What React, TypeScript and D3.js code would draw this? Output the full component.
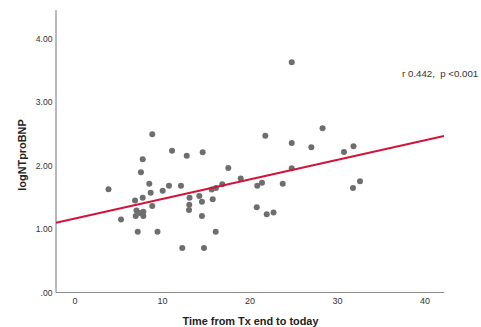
import React from "react";
import * as d3 from "d3";

const timeFromTx: number[] = [
  3.83, 5.26, 6.86, 7.74, 7.03, 7.43, 7.81, 6.94, 7.81, 7.17,
  8.65, 8.83, 8.49, 7.54, 7.74, 8.83, 9.43, 10.02, 10.74, 11.09,
  12.11, 12.26, 12.77, 14.59, 13.09, 13.06, 13.03, 14.21, 14.51, 14.51,
  14.74, 15.62, 16.11, 15.74, 16.08, 16.83, 17.52, 18.94, 20.83, 21.37,
  20.77, 21.91, 22.69, 21.75, 24.77, 24.77, 24.77, 23.74, 27.01, 28.29,
  30.74, 31.83, 31.77, 32.57,
];
const logNTproBNP: number[] = [
  1.625, 1.15, 1.449, 1.493, 1.291, 1.252, 1.272, 1.205, 1.205, 0.957,
  1.572, 1.362, 1.713, 1.893, 2.098, 2.491, 0.957, 1.603, 1.682, 2.233,
  1.682, 0.701, 2.154, 2.208, 1.493, 1.383, 1.299, 1.52, 1.43, 1.205,
  0.701, 1.622, 1.646, 1.468, 0.957, 1.704, 1.961, 1.795, 1.682, 1.729,
  1.342, 1.233, 1.26, 2.469, 3.625, 2.354, 1.957, 1.713, 2.287, 2.586,
  2.213, 2.302, 1.646, 1.751,
];
const fitIntercept = 1.166;
const fitSlope = 0.0308;
const xTicks: number[] = [0, 10, 20, 30, 40];
const yTicks: number[] = [0, 1, 2, 3, 4];
const yTickLabels: string[] = [".00", "1.00", "2.00", "3.00", "4.00"];
const xDomain: [number, number] = [-2.17, 42.17];
const yDomain: [number, number] = [0, 4.45];
const xTitle = "Time from Tx end to today";
const yTitle = "logNTproBNP";
const annotation = "r 0.442,  p <0.001";

export default function App() {
  const W = 481, H = 327;
  const left = 56, right = 444, top = 10, bottom = 292.5;
  const x = d3.scaleLinear().domain(xDomain).range([left, right]);
  const y = d3.scaleLinear().domain(yDomain).range([bottom, top]);
  const fitLine = d3
    .line<number>()
    .x((d) => x(d))
    .y((d) => y(fitIntercept + fitSlope * d));
  const font = "Arial, 'Liberation Sans', sans-serif";
  const axisColor = "#8c8c8c";
  return (
    <svg
      width={W}
      height={H}
      style={{ position: "fixed", left: 0, top: 0, background: "#fff" }}
      fontFamily={font}
    >
      <rect width={W} height={H} fill="#fff" />
      {/* axes */}
      <line x1={left} x2={left} y1={top} y2={bottom} stroke={axisColor} strokeWidth={1.2} />
      <line x1={left} x2={right} y1={bottom} y2={bottom} stroke={axisColor} strokeWidth={1.2} />
      {yTicks.map((t, i) => (
        <text
          key={"y" + t}
          x={52.5}
          y={y(t)}
          dy="0.35em"
          textAnchor="end"
          fontSize={8.6}
          fill="#333"
        >
          {yTickLabels[i]}
        </text>
      ))}
      {xTicks.map((t) => (
        <text
          key={"x" + t}
          x={x(t)}
          y={301}
          dy="0.35em"
          textAnchor="middle"
          fontSize={9}
          fill="#333"
        >
          {t}
        </text>
      ))}
      {/* points */}
      {timeFromTx.map((tx, i) => (
        <circle key={i} cx={x(tx)} cy={y(logNTproBNP[i])} r={3} fill="#6e6e6e" />
      ))}
      {/* fit line */}
      <path d={fitLine(xDomain) || ""} stroke="#d2143a" strokeWidth={2} fill="none" />
      {/* annotation */}
      <text
        x={402}
        y={74}
        dy="0.35em"
        fontSize={9.7}
        fill="#333"
        style={{ whiteSpace: "pre" }}
      >
        {annotation}
      </text>
      {/* titles */}
      <text
        x={250.5}
        y={321}
        dy="0.35em"
        textAnchor="middle"
        fontSize={10.9}
        fontWeight="bold"
        fill="#222"
      >
        {xTitle}
      </text>
      <text
        transform={`translate(22,155) rotate(-90)`}
        dy="0.35em"
        textAnchor="middle"
        fontSize={10.9}
        fontWeight="bold"
        fill="#222"
      >
        {yTitle}
      </text>
    </svg>
  );
}
